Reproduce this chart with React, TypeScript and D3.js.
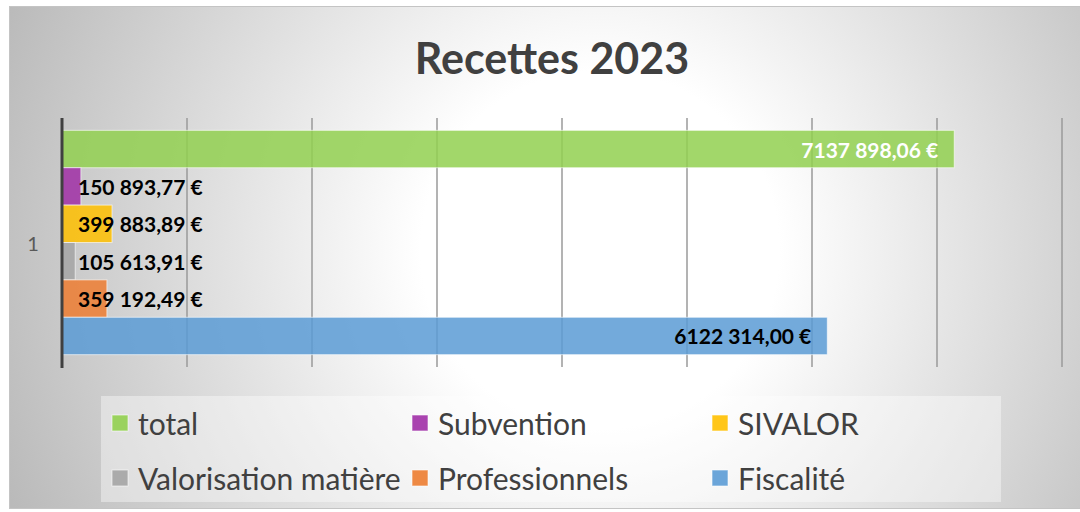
import { useEffect, useRef } from "react";
import * as d3 from "d3";

// data
const categories = ["1"];
const seriesNames = ["total", "Subvention", "SIVALOR", "Valorisation matière", "Professionnels", "Fiscalité"];
const seriesValues = [7137898.06, 150893.77, 399883.89, 105613.91, 359192.49, 6122314.0];
const seriesColors = ["#92d050", "#a02fa6", "#ffc000", "#a5a5a5", "#ed7d31", "#5b9bd5"];
const xTicks = [0, 1000000, 2000000, 3000000, 4000000, 5000000, 6000000, 7000000, 8000000];

// Excel-like "# ##0,00 €" (only one thousands separator)
const fmtEuro = (v: number) => {
  const [ent, dec] = v.toFixed(2).split(".");
  const head = ent.length > 3 ? ent.slice(0, ent.length - 3) + " " + ent.slice(-3) : ent;
  return `${head},${dec} €`;
};

const App = () => {
  const svgRef = useRef<SVGSVGElement>(null);

  useEffect(() => {
    const width = 1080;
    const height = 512;
    const plot = { left: 62, right: 1062, top: 118, bottom: 367 };

    const svg = d3.select(svgRef.current);
    svg.selectAll("*").remove();
    svg.attr("width", width).attr("height", height);

    // background with radial gradient
    const defs = svg.append("defs");
    const grad = defs
      .append("radialGradient")
      .attr("id", "bg-grad")
      .attr("gradientUnits", "userSpaceOnUse")
      .attr("cx", 600)
      .attr("cy", 250)
      .attr("r", 640);
    grad.append("stop").attr("offset", "0%").attr("stop-color", "#ffffff");
    grad.append("stop").attr("offset", "28%").attr("stop-color", "#ffffff");
    grad.append("stop").attr("offset", "100%").attr("stop-color", "#bababa");

    svg.append("rect").attr("width", width).attr("height", height).attr("fill", "#ffffff");
    svg
      .append("rect")
      .attr("x", 9.5)
      .attr("y", 6.5)
      .attr("width", 1075)
      .attr("height", 502)
      .attr("fill", "url(#bg-grad)")
      .attr("stroke", "#c4c4c4")
      .attr("stroke-width", 1);

    // title
    svg
      .append("text")
      .attr("x", 552)
      .attr("y", 74)
      .attr("text-anchor", "middle")
      .attr("fill", "#404040")
      .style("font-family", "Lato, 'Open Sans', sans-serif")
      .style("font-weight", "bold")
      .style("font-size", "43px")
      .text("Recettes 2023");

    // scales
    const x = d3.scaleLinear().domain([0, 8000000]).range([plot.left, plot.right]);
    const yCat = d3.scaleBand().domain(categories).range([plot.top, plot.bottom]).paddingOuter(0.055).paddingInner(0);
    const ySer = d3
      .scaleBand()
      .domain(seriesNames)
      .range([yCat(categories[0])!, yCat(categories[0])! + yCat.bandwidth()]);

    // gridlines
    svg
      .selectAll(".grid")
      .data(xTicks.slice(1))
      .enter()
      .append("line")
      .attr("x1", (d) => x(d))
      .attr("x2", (d) => x(d))
      .attr("y1", plot.top)
      .attr("y2", plot.bottom)
      .attr("stroke", "#9a9a9a")
      .attr("stroke-width", 1.5);

    // bars
    seriesNames.forEach((name, i) => {
      const v = seriesValues[i];
      svg
        .append("rect")
        .attr("x", x(0))
        .attr("y", ySer(name)!)
        .attr("width", x(v) - x(0))
        .attr("height", ySer.bandwidth())
        .attr("fill", seriesColors[i])
        .attr("fill-opacity", 0.85)
        .attr("stroke", "#ffffff")
        .attr("stroke-opacity", 0.6)
        .attr("stroke-width", 1);
    });

    // data labels
    seriesNames.forEach((name, i) => {
      const v = seriesValues[i];
      const t = svg
        .append("text")
        .attr("y", ySer(name)! + ySer.bandwidth() / 2)
        .attr("dominant-baseline", "central")
        .attr("fill", i === 0 ? "#ffffff" : "#000000")
        .style("font-family", "Lato, 'Open Sans', sans-serif")
        .style("font-weight", "bold")
        .style("font-size", "21px")
        .text(fmtEuro(v));
      const w = (t.node() as SVGTextElement).getComputedTextLength();
      const barW = x(v) - x(0);
      if (w + 32 < barW) {
        t.attr("x", x(v) - 16).attr("text-anchor", "end");
      } else {
        t.attr("x", x(0) + 16).attr("text-anchor", "start");
      }
    });

    // value axis line (at 0)
    svg
      .append("line")
      .attr("x1", x(0))
      .attr("x2", x(0))
      .attr("y1", plot.top)
      .attr("y2", plot.bottom + 1)
      .attr("stroke", "#404040")
      .attr("stroke-width", 3);

    // category label
    svg
      .append("text")
      .attr("x", 33)
      .attr("y", yCat(categories[0])! + yCat.bandwidth() / 2)
      .attr("text-anchor", "middle")
      .attr("dominant-baseline", "central")
      .attr("fill", "#595959")
      .style("font-family", "Lato, 'Open Sans', sans-serif")
      .style("font-size", "20px")
      .text(categories[0]);

    // legend
    svg
      .append("rect")
      .attr("x", 101)
      .attr("y", 396)
      .attr("width", 900)
      .attr("height", 106)
      .attr("fill", "#ffffff")
      .attr("fill-opacity", 0.4);

    const colX = [112, 412, 712];
    const rowY = [423, 478];
    seriesNames.forEach((name, i) => {
      const cx = colX[i % 3];
      const cy = rowY[Math.floor(i / 3)];
      svg
        .append("rect")
        .attr("x", cx)
        .attr("y", cy - 8)
        .attr("width", 16)
        .attr("height", 16)
        .attr("fill", seriesColors[i])
        .attr("fill-opacity", 0.9)
        .attr("stroke", "#ffffff")
        .attr("stroke-opacity", 0.6);
      svg
        .append("text")
        .attr("x", cx + 26)
        .attr("y", cy)
        .attr("dominant-baseline", "central")
        .attr("fill", "#404040")
        .style("font-family", "Lato, 'Open Sans', sans-serif")
        .style("font-size", "30px")
        .text(name);
    });
  }, []);

  return (
    <div style={{ position: "absolute", left: 0, top: 0 }}>
      <svg ref={svgRef}></svg>
    </div>
  );
};

export default App;
